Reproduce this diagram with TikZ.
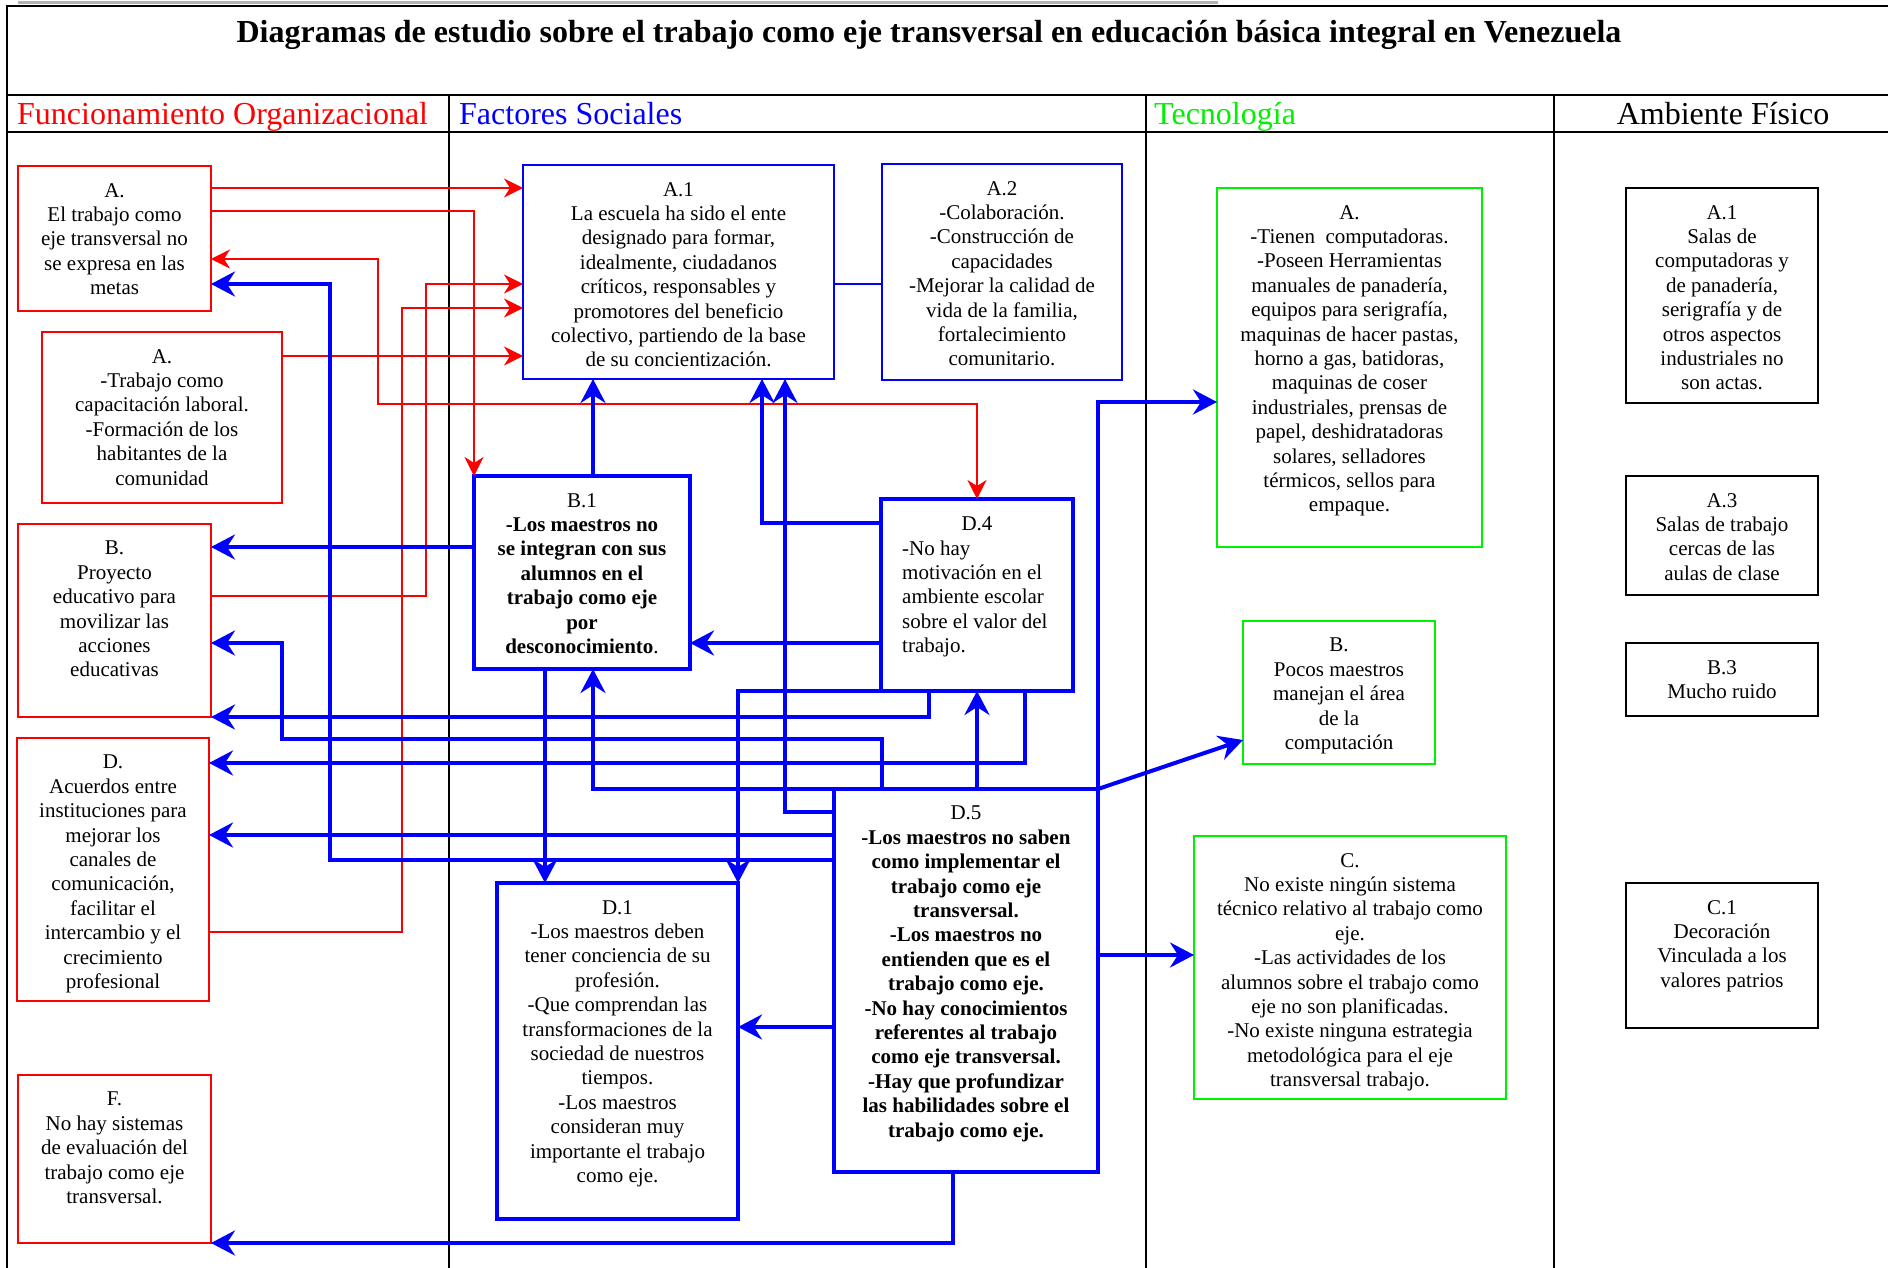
\documentclass[tikz,border=0pt]{standalone}
\usepackage{fontspec}
\setmainfont{Liberation Serif}
\usetikzlibrary{arrows.meta}
\definecolor{fred}{RGB}{255,0,0}
\definecolor{fblue}{RGB}{0,0,255}
\definecolor{fgreen}{RGB}{0,240,0}
\newcommand\mkbox[6]{\node[#2, minimum width={#5-#3}, minimum height={#6-#4}] (#1) at ({(#3+#5)/2},{(#4+#6)/2}) {};}
\begin{document}
\begin{tikzpicture}[x=1pt,y=-1pt,
  rtip/.tip={Stealth[length=19pt,width=19pt,inset=6pt]},
  btip/.tip={Stealth[length=24pt,width=25pt,inset=8pt]},
  basebox/.style={inner sep=0pt, outer sep=0pt, rectangle},
  rbox/.style={basebox, draw=fred, line width=2pt},
  gbox/.style={basebox, draw=fgreen, line width=2pt},
  kbox/.style={basebox, draw=black, line width=2.5pt},
  bthin/.style={basebox, draw=fblue, line width=2pt},
  bthick/.style={basebox, draw=fblue, line width=4pt},
  txt/.style={font=\fontsize{21}{24.4}\selectfont, align=center, inner sep=0pt, anchor=north},
  hdr/.style={font=\fontsize{32}{37}\selectfont, inner sep=0pt},
  frame/.style={draw=black, line width=2pt},
  rarr/.style={draw=fred, line width=1.6pt, -rtip},
  rarrb/.style={draw=fred, line width=1.6pt, rtip-rtip},
  barr/.style={draw=fblue, line width=4pt, -btip},
  bline/.style={draw=fblue, line width=2pt}
]
\useasboundingbox (0,0) rectangle (1888,1268);
\fill[white] (0,0) rectangle (1888,1268);

% frame
\draw[gray!60, line width=3pt] (18,2.5) -- (1218,2.5);
\draw[frame] (7,1268) -- (7,6) -- (1888,6);
\draw[frame] (7,95) -- (1888,95);
\draw[frame] (7,132) -- (1888,132);
\draw[frame] (449,95) -- (449,1268);
\draw[frame] (1146,95) -- (1146,1268);
\draw[frame] (1554,95) -- (1554,1268);

% title and headers
\node[anchor=base, inner sep=0pt, font=\fontsize{32}{37}\selectfont\bfseries] (title) at (929,43) {Diagramas de estudio sobre el trabajo como eje transversal en educación básica integral en Venezuela};
\node[hdr, anchor=base west, text=fred] (h1) at (17,125) {Funcionamiento Organizacional};
\node[hdr, anchor=base west, text=fblue] (h2) at (459,125) {Factores Sociales};
\node[hdr, anchor=base west, text=fgreen] (h3) at (1154,125) {Tecnología};
\node[hdr, anchor=base] (h4) at (1723,125) {Ambiente Físico};

% Funcionamiento Organizacional
\mkbox{fa1}{rbox}{18}{166}{211}{311}
\mkbox{fa2}{rbox}{42}{332}{282}{503}
\mkbox{fb}{rbox}{18}{524}{211}{717}
\mkbox{fd}{rbox}{17}{738}{209}{1001}
\mkbox{ff}{rbox}{18}{1075}{211}{1243}
\node[txt] (fa1t) at ([yshift=-17pt]fa1.north) {A.\\El trabajo como\\eje transversal no\\se expresa en las\\metas};
\node[txt] (fa2t) at ([yshift=-17pt]fa2.north) {A.\\-Trabajo como\\capacitación laboral.\\-Formación de los\\habitantes de la\\comunidad};
\node[txt] (fbt) at ([yshift=-17pt]fb.north) {B.\\Proyecto\\educativo para\\movilizar las\\acciones\\educativas};
\node[txt] (fdt) at ([yshift=-17pt]fd.north) {D.\\Acuerdos entre\\instituciones para\\mejorar los\\canales de\\comunicación,\\facilitar el\\intercambio y el\\crecimiento\\profesional};
\node[txt] (fft) at ([yshift=-17pt]ff.north) {F.\\No hay sistemas\\de evaluación del\\trabajo como eje\\transversal.};

% Factores Sociales
\mkbox{sa1}{bthin}{523}{165}{834}{379}
\mkbox{sa2}{bthin}{882}{164}{1122}{380}
\mkbox{sb1}{bthick}{474}{476}{690}{669}
\mkbox{sd4}{bthick}{881}{499}{1073}{691}
\mkbox{sd5}{bthick}{834}{789}{1098}{1172}
\mkbox{sd1}{bthick}{497}{883}{738}{1219}
\node[txt] (sa1t) at ([yshift=-17pt]sa1.north) {A.1\\La escuela ha sido el ente\\designado para formar,\\idealmente, ciudadanos\\críticos, responsables y\\promotores del beneficio\\colectivo, partiendo de la base\\de su concientización.};
\node[txt] (sa2t) at ([yshift=-17pt]sa2.north) {A.2\\-Colaboración.\\-Construcción de\\capacidades\\-Mejorar la calidad de\\vida de la familia,\\fortalecimiento\\comunitario.};
\node[txt] (sb1t) at ([yshift=-17pt]sb1.north) {B.1\\\textbf{-Los maestros no}\\\textbf{se integran con sus}\\\textbf{alumnos en el}\\\textbf{trabajo como eje}\\\textbf{por}\\\textbf{desconocimiento}.};
\node[txt] (sd4t) at ([yshift=-17pt]sd4.north) {D.4};
\node[txt, anchor=north west, align=left] (sd4b) at (902,540.4) {-No hay\\motivación en el\\ambiente escolar\\sobre el valor del\\trabajo.};
\node[txt] (sd5t) at ([yshift=-17pt]sd5.north) {D.5\\\textbf{-Los maestros no saben}\\\textbf{como implementar el}\\\textbf{trabajo como eje}\\\textbf{transversal.}\\\textbf{-Los maestros no}\\\textbf{entienden que es el}\\\textbf{trabajo como eje.}\\\textbf{-No hay conocimientos}\\\textbf{referentes al trabajo}\\\textbf{como eje transversal.}\\\textbf{-Hay que profundizar}\\\textbf{las habilidades sobre el}\\\textbf{trabajo como eje.}};
\node[txt] (sd1t) at ([yshift=-17pt]sd1.north) {D.1\\-Los maestros deben\\tener conciencia de su\\profesión.\\-Que comprendan las\\transformaciones de la\\sociedad de nuestros\\tiempos.\\-Los maestros\\consideran muy\\importante el trabajo\\como eje.};

% Tecnologia
\mkbox{ta}{gbox}{1217}{188}{1482}{547}
\mkbox{tb}{gbox}{1243}{621}{1435}{764}
\mkbox{tc}{gbox}{1194}{836}{1506}{1099}
\node[txt] (tat) at ([yshift=-17pt]ta.north) {A.\\-Tienen\ \ computadoras.\\-Poseen Herramientas\\manuales de panadería,\\equipos para serigrafía,\\maquinas de hacer pastas,\\horno a gas, batidoras,\\maquinas de coser\\industriales, prensas de\\papel, deshidratadoras\\solares, selladores\\térmicos, sellos para\\empaque.};
\node[txt] (tbt) at ([yshift=-17pt]tb.north) {B.\\Pocos maestros\\manejan el área\\de la\\computación};
\node[txt] (tct) at ([yshift=-17pt]tc.north) {C.\\No existe ningún sistema\\técnico relativo al trabajo como\\eje.\\-Las actividades de los\\alumnos sobre el trabajo como\\eje no son planificadas.\\-No existe ninguna estrategia\\metodológica para el eje\\transversal trabajo.};

% Ambiente Fisico
\mkbox{aa1}{kbox}{1626}{188}{1818}{403}
\mkbox{aa3}{kbox}{1626}{476}{1818}{595}
\mkbox{ab3}{kbox}{1626}{643}{1818}{716}
\mkbox{ac1}{kbox}{1626}{883}{1818}{1028}
\node[txt] (aa1t) at ([yshift=-17pt]aa1.north) {A.1\\Salas de\\computadoras y\\de panadería,\\serigrafía y de\\otros aspectos\\industriales no\\son actas.};
\node[txt] (aa3t) at ([yshift=-17pt]aa3.north) {A.3\\Salas de trabajo\\cercas de las\\aulas de clase};
\node[txt] (ab3t) at ([yshift=-17pt]ab3.north) {B.3\\Mucho ruido};
\node[txt] (ac1t) at ([yshift=-17pt]ac1.north) {C.1\\Decoración\\Vinculada a los\\valores patrios};

% red connectors
\draw[rarr] (fa1.east |- 0,188) -- (sa1.west |- 0,188);
\draw[rarr] (fa1.east |- 0,211) -| (sb1.north west);
\draw[rarrb] (fa1.east |- 0,259) -- (378,259) -- (378,404) -| (sd4.north);
\draw[rarr] (fa2.east |- 0,356) -- (sa1.west |- 0,356);
\draw[rarr] (fb.east |- 0,596) -- (426,596) -- (426,284) -- (sa1.west |- 0,284);
\draw[rarr] (fd.east |- 0,932) -- (402,932) -- (402,308) -- (sa1.west |- 0,308);

% blue connectors
\draw[bline] (sa1.east |- 0,284) -- (sa2.west |- 0,284);
\draw[barr] (sb1.north -| 593,0) -- (sa1.south -| 593,0);
\draw[barr] (sd4.west |- 0,523) -| (sa1.south -| 762,0);
\draw[barr] (sd5.west |- 0,812) -| (sa1.south -| 785,0);
\draw[barr] (sb1.west |- 0,547) -- (fb.east |- 0,547);
\draw[barr] (sd4.west |- 0,643) -- (sb1.east |- 0,643);
\draw[barr] (sd4.south west) -| (sd1.north east);
\draw[barr] (sd4.south -| 929,0) |- (fb.south east);
\draw[barr] (sd5.north -| 882,0) |- (282,739) |- (fb.east |- 0,643);
\draw[barr] (sd4.south -| 1025,0) |- (fd.east |- 0,763);
\draw[barr] (sd5.north -| sd4.south) -- (sd4.south);
\draw[barr] (sd5.north west) -| (sb1.south -| 593,0);
\draw[barr] (sb1.south -| 545,0) -- (sd1.north -| 545,0);
\draw[barr] (sd5.west |- 0,835) -- (fd.east |- 0,835);
\draw[barr] (sd5.west |- 0,860) -| (330,284) -- (fa1.east |- 0,284);
\draw[barr] (sd5.west |- 0,1027) -- (sd1.east |- 0,1027);
\draw[barr] (sd5.south -| 953,0) |- (ff.south east);
\draw[barr] (sd5.north east) |- (ta.west |- 0,402);
\draw[barr] (sd5.north east) -- (tb.west |- 0,740);
\draw[barr] (sd5.east |- 0,955) -- (tc.west |- 0,955);
\end{tikzpicture}
\end{document}
